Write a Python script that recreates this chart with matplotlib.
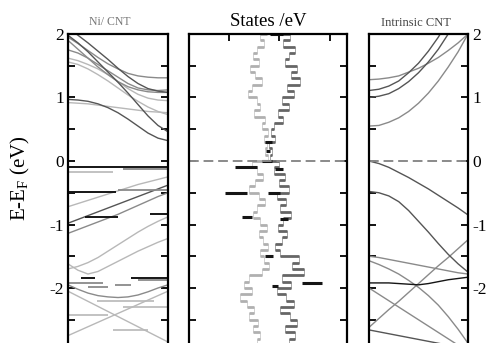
import matplotlib
matplotlib.use("Agg")
import matplotlib.pyplot as plt
from matplotlib.ticker import MultipleLocator

plt.rcParams["font.family"] = ["Liberation Serif", "DejaVu Serif"]
plt.rcParams["axes.unicode_minus"] = False
plt.rcParams["mathtext.fontset"] = "custom"
plt.rcParams["mathtext.rm"] = "Liberation Serif"

# --- k points (Gamma -> X) ---
k = [0.0, 0.1, 0.2, 0.3, 0.4, 0.5, 0.6, 0.7, 0.8, 0.9, 1.0]

# --- Ni/CNT bands (eV), grouped by shade ---
ni_dark = [
    [1.98, 1.86, 1.72, 1.56, 1.40, 1.24, 1.07, 0.89, 0.71, 0.56, 0.46],
    [0.97, 0.96, 0.94, 0.90, 0.84, 0.76, 0.66, 0.55, 0.44, 0.36, 0.32],
    [2.10, 1.98, 1.86, 1.73, 1.60, 1.46, 1.33, 1.22, 1.14, 1.10, 1.08],
    [-0.98, -0.92, -0.86, -0.80, -0.74, -0.68, -0.62, -0.56, -0.50, -0.44, -0.38],
]
ni_gray = [
    [1.95, 1.85, 1.74, 1.63, 1.53, 1.45, 1.38, 1.34, 1.32, 1.31, 1.31],
    [1.90, 1.76, 1.62, 1.48, 1.36, 1.25, 1.17, 1.12, 1.09, 1.08, 1.08],
    [1.75, 1.70, 1.62, 1.52, 1.42, 1.32, 1.22, 1.15, 1.12, 1.11, 1.12],
    [-1.14, -1.08, -1.02, -0.96, -0.90, -0.84, -0.77, -0.70, -0.63, -0.56, -0.50],
    [-1.95, -2.02, -2.08, -2.12, -2.14, -2.15, -2.14, -2.11, -2.06, -2.00, -1.95],
]
ni_light = [
    [1.62, 1.58, 1.52, 1.45, 1.36, 1.25, 1.14, 1.05, 0.99, 0.96, 0.95],
    [1.56, 1.52, 1.45, 1.36, 1.26, 1.15, 1.04, 0.94, 0.85, 0.78, 0.73],
    [0.92, 0.91, 0.90, 0.88, 0.86, 0.84, 0.82, 0.80, 0.78, 0.77, 0.76],
    [-0.72, -0.67, -0.62, -0.57, -0.52, -0.47, -0.42, -0.37, -0.33, -0.29, -0.25],
    [-1.62, -1.72, -1.78, -1.74, -1.66, -1.58, -1.50, -1.42, -1.35, -1.28, -1.22],
    [-1.70, -1.66, -1.60, -1.52, -1.42, -1.32, -1.22, -1.12, -1.03, -0.95, -0.88],
    [-2.05, -2.13, -2.21, -2.29, -2.37, -2.45, -2.53, -2.61, -2.69, -2.77, -2.85],
    [-2.75, -2.68, -2.61, -2.54, -2.47, -2.40, -2.33, -2.26, -2.19, -2.12, -2.05],
]
# flat (localised Ni) levels: energy, k start, k end
ni_flat_black_E = [-0.09, -0.49, -0.88, -0.83, -1.84, -1.84]
ni_flat_black_k0 = [0.0, 0.0, 0.17, 0.82, 0.13, 0.63]
ni_flat_black_k1 = [1.0, 0.48, 0.50, 1.0, 0.27, 1.0]
ni_flat_gray_E = [-0.12, -0.45, -1.92, -1.95, -1.99, -1.88]
ni_flat_gray_k0 = [0.55, 0.50, 0.0, 0.47, 0.20, 0.70]
ni_flat_gray_k1 = [1.0, 1.0, 0.35, 0.63, 0.40, 1.0]
ni_flat_light_E = [-0.17, -2.20, -2.42, -2.30, -2.66]
ni_flat_light_k0 = [0.0, 0.29, 0.0, 0.55, 0.45]
ni_flat_light_k1 = [0.45, 0.86, 0.40, 1.0, 0.80]

# --- intrinsic CNT bands (eV) ---
cnt_dark = [
    [1.11, 1.13, 1.18, 1.26, 1.39, 1.54, 1.73, 1.95, 2.21, 2.50, 2.83],
    [1.00, 1.02, 1.06, 1.14, 1.25, 1.39, 1.56, 1.76, 2.00, 2.26, 2.56],
    [0.00, -0.04, -0.10, -0.18, -0.26, -0.35, -0.44, -0.54, -0.64, -0.74, -0.85],
    [-0.48, -0.50, -0.55, -0.64, -0.78, -0.95, -1.12, -1.30, -1.47, -1.62, -1.75],
    [-2.66, -2.69, -2.72, -2.75, -2.78, -2.81, -2.84, -2.87, -2.90, -2.93, -2.96],
]
cnt_black = [
    [-1.92, -1.92, -1.92, -1.93, -1.94, -1.95, -1.93, -1.90, -1.87, -1.85, -1.83],
]
cnt_gray = [
    [1.28, 1.29, 1.31, 1.34, 1.40, 1.46, 1.54, 1.63, 1.74, 1.86, 2.00],
    [0.55, 0.56, 0.61, 0.68, 0.78, 0.91, 1.07, 1.26, 1.48, 1.72, 2.00],
    [-1.50, -1.52, -1.55, -1.58, -1.61, -1.64, -1.67, -1.70, -1.73, -1.76, -1.78],
    [-1.57, -1.63, -1.70, -1.78, -1.88, -1.99, -2.12, -2.27, -2.45, -2.65, -2.87],
    [-2.62, -2.48, -2.34, -2.21, -2.07, -1.93, -1.79, -1.65, -1.52, -1.38, -1.24],
    [-2.00, -2.10, -2.20, -2.30, -2.40, -2.50, -2.60, -2.70, -2.80, -2.90, -3.00],
]

# --- density of states (states/eV) ---
dos_E = [2.0, 1.9, 1.8, 1.7, 1.6, 1.5, 1.4, 1.3, 1.2, 1.1,
         1.0, 0.9, 0.8, 0.7, 0.6, 0.5, 0.4, 0.3, 0.2, 0.1,
         0.0, -0.1, -0.2, -0.3, -0.4, -0.5, -0.6, -0.7, -0.8, -0.9,
         -1.0, -1.1, -1.2, -1.3, -1.4, -1.5, -1.6, -1.7, -1.8, -1.9,
         -2.0, -2.1, -2.2, -2.3, -2.4, -2.5, -2.6, -2.7, -2.8, -2.9]
dos_light = [1.75, 1.62, 1.70, 1.55, 1.48, 1.60, 1.42, 1.52, 1.65, 1.45,
             1.38, 1.55, 1.62, 1.50, 1.72, 1.66, 1.78, 1.70, 1.76, 1.72,
             1.78, 1.45, 1.55, 1.68, 1.52, 1.40, 1.60, 1.72, 1.55, 1.48,
             1.62, 1.75, 1.60, 1.68, 1.78, 1.62, 1.70, 1.80, 1.66, 1.40,
             1.30, 1.45, 1.22, 1.36, 1.50, 1.40, 1.58, 1.48, 1.62, 1.55]
dos_dark = [1.98, 2.20, 2.08, 2.30, 2.18, 2.10, 2.35, 2.22, 2.40, 2.15,
            2.28, 2.05, 2.18, 1.98, 2.08, 1.90, 1.84, 1.92, 1.80, 1.86,
            1.82, 2.00, 1.90, 2.10, 2.00, 2.18, 1.95, 2.12, 2.02, 2.22,
            2.08, 1.98, 2.15, 2.05, 1.92, 2.02, 2.38, 2.25, 2.48, 2.06,
            2.22, 1.95, 2.12, 2.28, 2.02, 2.20, 2.35, 2.10, 2.30, 2.18]
dos_peak_E = [2.0, 0.3, 0.15, 0.0, -0.1, -0.12, -0.5, -0.5, -0.88, -0.92, -1.5, -1.92, -1.97]
dos_peak_x0 = [1.81, 1.71, 1.73, 1.65, 1.12, 1.91, 0.92, 1.77, 1.26, 2.01, 1.71, 2.45, 1.85]
dos_peak_x1 = [2.07, 1.85, 1.81, 1.85, 1.55, 2.07, 1.36, 2.01, 1.46, 2.17, 1.87, 2.84, 1.97]

C_BLACK = "#151515"
C_DARK = "#555555"
C_GRAY = "#8a8a8a"
C_LIGHT = "#b8b8b8"

fig = plt.figure(figsize=(4.89, 3.43), dpi=100)
bot, hgt = -0.0248, 0.9257
ax1 = fig.add_axes([0.139, bot, 0.2045, hgt])
ax2 = fig.add_axes([0.3865, bot, 0.323, hgt])
ax3 = fig.add_axes([0.7546, bot, 0.2025, hgt])


def frame(ax):
    ax.set_ylim(-3, 2)
    ax.yaxis.set_major_locator(MultipleLocator(1))
    ax.yaxis.set_minor_locator(MultipleLocator(0.5))
    ax.tick_params(axis="y", which="both", direction="in", left=True, right=True,
                   length=5, width=1.3, labelsize=12.5, pad=3)
    for s in ax.spines.values():
        s.set_linewidth(1.6)


def dos_dashes(ax, x, E, col):
    # histogram look: thick horizontal pieces, hair-thin risers
    ax.plot(x, E, color=col, lw=0.4, drawstyle="steps-post")
    ax.hlines(E[:-1], x[:-1], x[1:], color=col, lw=2.0)


# left: Ni/CNT
for group, col in [(ni_light, C_LIGHT), (ni_gray, C_GRAY), (ni_dark, C_DARK)]:
    for band in group:
        ax1.plot(k, band, color=col, lw=1.0)
ax1.hlines(ni_flat_light_E, ni_flat_light_k0, ni_flat_light_k1, color=C_LIGHT, lw=1.2)
ax1.hlines(ni_flat_gray_E, ni_flat_gray_k0, ni_flat_gray_k1, color=C_GRAY, lw=1.3)
ax1.hlines(ni_flat_black_E, ni_flat_black_k0, ni_flat_black_k1, color=C_BLACK, lw=1.4)
ax1.set_xlim(0, 1)
ax1.set_xticks([])
frame(ax1)
ax1.set_yticks([2, 1, 0, -1, -2])
ax1.set_yticklabels(["2", "1", "0", "-1", "-2"])

# middle: DOS
dos_dashes(ax2, dos_light, dos_E, "#b0b0b0")
dos_dashes(ax2, dos_dark, dos_E, "#666666")
ax2.hlines(dos_peak_E, dos_peak_x0, dos_peak_x1, color=C_BLACK, lw=2.2)
ax2.axhline(0, color=C_GRAY, lw=1.4, dashes=(5, 2.5))
ax2.set_xlim(0.208, 3.337)
ax2.set_xticks([1, 2, 3])
ax2.tick_params(axis="x", direction="in", top=True, bottom=False, labelbottom=False,
                length=5, width=1.3)
frame(ax2)
ax2.tick_params(axis="y", labelleft=False)

# right: intrinsic CNT
for group, col in [(cnt_gray, C_GRAY), (cnt_dark, C_DARK), (cnt_black, C_BLACK)]:
    for band in group:
        ax3.plot(k, band, color=col, lw=1.0)
ax3.axhline(0, color=C_GRAY, lw=1.4, dashes=(5, 2.5))
ax3.set_xlim(0, 1)
ax3.set_xticks([])
frame(ax3)
ax3.tick_params(axis="y", labelleft=False, labelright=True)
ax3.set_yticks([2, 1, 0, -1, -2])
ax3.set_yticklabels(["2", "1", "0", "-1", "-2"])

fig.text(110 / 489, 1 - 22 / 343, "Ni/ CNT", ha="center", va="center", fontsize=8.5, color="#777777")
fig.text(268 / 489, 1 - 21 / 343, "States /eV", ha="center", va="center", fontsize=13.5)
fig.text(416 / 489, 1 - 23 / 343, "Intrinsic CNT", ha="center", va="center", fontsize=9, color="#444444")
fig.text(20 / 489, 1 - 178 / 343, r"E-E$_\mathrm{F}$ (eV)", rotation=90, ha="center", va="center", fontsize=15)

fig.savefig("out.png", dpi=100)
